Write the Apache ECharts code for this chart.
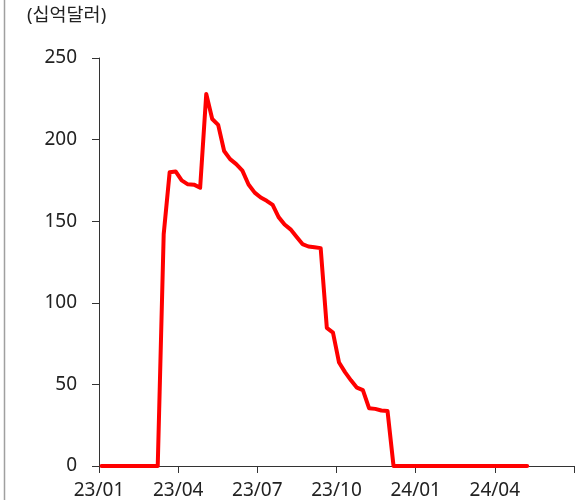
<!DOCTYPE html>
<html>
<head>
<meta charset="utf-8">
<script src="https://cdn.jsdelivr.net/npm/echarts@6/dist/echarts.min.js"></script>
<style>
  html, body { margin: 0; padding: 0; background: #fff; }
  #chart { width: 577px; height: 500px; }
</style>
</head>
<body>
<div id="chart"></div>
<script>
// Weekly observation dates
const dates = [
  '2023-01-04','2023-01-11','2023-01-18','2023-01-25',
  '2023-02-01','2023-02-08','2023-02-15','2023-02-22',
  '2023-03-01','2023-03-08','2023-03-15','2023-03-22','2023-03-29',
  '2023-04-05','2023-04-12','2023-04-19','2023-04-26',
  '2023-05-03','2023-05-10','2023-05-17','2023-05-24','2023-05-31',
  '2023-06-07','2023-06-14','2023-06-21','2023-06-28',
  '2023-07-05','2023-07-12','2023-07-19','2023-07-26',
  '2023-08-02','2023-08-09','2023-08-16','2023-08-23','2023-08-30',
  '2023-09-06','2023-09-13','2023-09-20','2023-09-27',
  '2023-10-04','2023-10-11','2023-10-18','2023-10-25',
  '2023-11-01','2023-11-08','2023-11-15','2023-11-22','2023-11-29',
  '2023-12-06','2023-12-13','2023-12-20','2023-12-27',
  '2024-01-03','2024-01-10','2024-01-17','2024-01-24','2024-01-31',
  '2024-02-07','2024-02-14','2024-02-21','2024-02-28',
  '2024-03-06','2024-03-13','2024-03-20','2024-03-27',
  '2024-04-03','2024-04-10','2024-04-17','2024-04-24',
  '2024-05-01','2024-05-08'
];
// Values (billion USD)
const values = [
  0, 0, 0, 0,
  0, 0, 0, 0,
  0, 0, 142, 180, 180.5,
  175, 172.6, 172.4, 170.5,
  228, 212.6, 209, 193, 188,
  185, 181, 172.5, 167.5,
  164.5, 162.5, 160, 152.5,
  148, 145, 140.5, 136, 134.5,
  134, 133.5, 84.6, 81.7,
  63.4, 57.5, 52.5, 48,
  46.5, 35.4, 35, 34, 33.7,
  0, 0, 0, 0,
  0, 0, 0, 0, 0,
  0, 0, 0, 0,
  0, 0, 0, 0,
  0, 0, 0, 0,
  0, 0
];
const xTickLabels = ['23/01', '23/04', '23/07', '23/10', '24/01', '24/04'];
const yTicks = [0, 50, 100, 150, 200, 250];
const unitLabel = '(십억달러)';

// Convert a date to fractional months since 2023-01
function monthIndex(s) {
  const [y, m, d] = s.split('-').map(Number);
  const dim = new Date(Date.UTC(y, m, 0)).getUTCDate();
  return (y - 2023) * 12 + (m - 1) + (d - 1) / dim;
}
const seriesData = dates.map((d, i) => [monthIndex(d), values[i]]);

const FONT = '"Noto Sans", "Noto Sans CJK KR", sans-serif';
const chart = echarts.init(document.getElementById('chart'), null, { renderer: 'canvas' });
chart.setOption({
  animation: false,
  backgroundColor: '#fff',
  grid: { left: 99, right: 2, top: 58, bottom: 32, containLabel: false },
  graphic: [
    {
      type: 'line',
      shape: { x1: 4.5, y1: 0, x2: 4.5, y2: 500 },
      style: { stroke: '#a0a0a0', lineWidth: 1.5 }
    },
    {
      type: 'text',
      left: 27, top: 6,
      style: { text: unitLabel, fontSize: 18.5, fontFamily: FONT, fill: '#222' }
    }
  ],
  xAxis: {
    type: 'value',
    min: 0, max: 18, interval: 3,
    axisLine: { show: true, lineStyle: { color: '#333', width: 1 } },
    axisTick: { show: true, length: 7, lineStyle: { color: '#333' } },
    splitLine: { show: false },
    axisLabel: {
      margin: 15,
      fontSize: 19,
      fontFamily: FONT,
      color: '#222',
      formatter: v => xTickLabels[Math.round(v / 3)] || ''
    }
  },
  yAxis: {
    type: 'value',
    min: yTicks[0], max: yTicks[yTicks.length - 1], interval: 50,
    axisLine: { show: true, lineStyle: { color: '#333', width: 1 } },
    axisTick: { show: true, length: 7, lineStyle: { color: '#333' } },
    splitLine: { show: false },
    axisLabel: { margin: 22, fontSize: 19, fontFamily: FONT, color: '#222' }
  },
  series: [{
    type: 'line',
    data: seriesData,
    showSymbol: false,
    symbol: 'none',
    lineStyle: { color: '#ff0000', width: 4, cap: 'round', join: 'round' }
  }]
});
</script>
</body>
</html>
